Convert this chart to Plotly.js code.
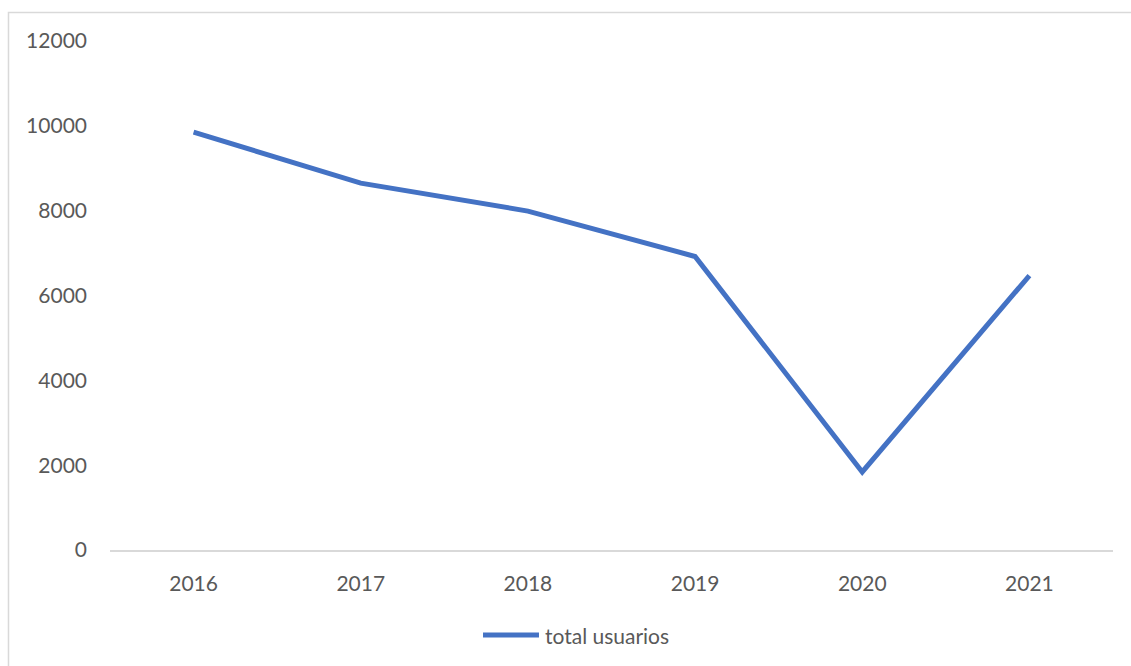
<!DOCTYPE html>
<html>
<head>
<meta charset="utf-8">
<script src="https://cdn.plot.ly/plotly-3.0.1.min.js"></script>
<style>
  html, body { margin: 0; padding: 0; background: #ffffff; }
  #chart { width: 1131px; height: 666px; }
</style>
</head>
<body>
<div id="chart"></div>
<script>
const years = ['2016', '2017', '2018', '2019', '2020', '2021'];
const totalUsuarios = [9850, 8650, 7990, 6920, 1840, 6470];
const yTicks = [0, 2000, 4000, 6000, 8000, 10000, 12000];
const seriesName = 'total usuarios';
const lineColor = '#4472C4';

const trace = {
  type: 'scatter',
  mode: 'lines',
  x: years,
  y: totalUsuarios,
  name: seriesName,
  line: { color: lineColor, width: 5 },
  hoverinfo: 'x+y'
};

const layout = {
  width: 1131,
  height: 666,
  margin: { l: 110, r: 18, t: 41, b: 116 },
  paper_bgcolor: '#ffffff',
  plot_bgcolor: '#ffffff',
  font: { family: 'Lato, "Open Sans", sans-serif', size: 21, color: '#595959' },
  showlegend: false,
  xaxis: {
    type: 'category',
    range: [-0.5, years.length - 0.5],
    showgrid: false,
    zeroline: false,
    showline: true,
    linecolor: '#D9D9D9',
    linewidth: 1.5,
    ticks: '',
    ticklabelstandoff: 14,
    fixedrange: true
  },
  yaxis: {
    range: [0, 12000],
    tickvals: yTicks,
    ticktext: yTicks.map(String),
    showgrid: false,
    zeroline: false,
    showline: false,
    ticks: '',
    ticklabelstandoff: 22,
    fixedrange: true
  },
  shapes: [
    {
      type: 'rect',
      xref: 'paper', yref: 'paper',
      x0: -0.1012, x1: 1.03,
      y0: -0.25, y1: 1.056,
      line: { color: '#D9D9D9', width: 1.5 },
      fillcolor: 'rgba(0,0,0,0)',
      layer: 'below'
    },
    {
      type: 'line',
      xref: 'paper', yref: 'paper',
      x0: 0.3719, x1: 0.4277,
      y0: -0.167, y1: -0.167,
      line: { color: lineColor, width: 5 }
    }
  ],
  annotations: [{
    xref: 'paper', yref: 'paper',
    x: 0.4317, y: -0.167,
    xanchor: 'left', yanchor: 'middle',
    text: seriesName,
    showarrow: false,
    font: { size: 21, color: '#595959' }
  }]
};

Plotly.newPlot('chart', [trace], layout, { displayModeBar: false, staticPlot: true });
</script>
</body>
</html>
